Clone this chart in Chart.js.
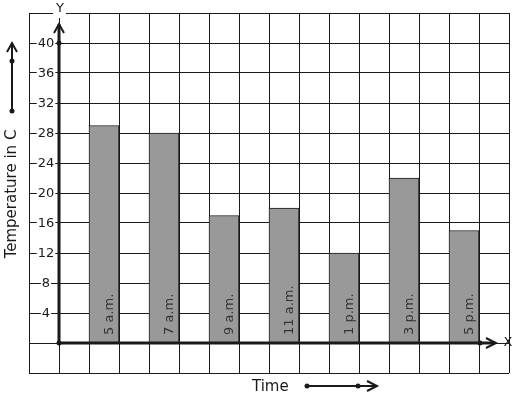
<!DOCTYPE html>
<html>
<head>
<meta charset="utf-8">
<script src="https://cdn.jsdelivr.net/npm/chart.js@4.4.1/dist/chart.umd.min.js"></script>
<style>
  html, body { margin: 0; padding: 0; background: #fff; }
  #wrap { width: 517px; height: 399px; }
</style>
</head>
<body>
<div id="wrap"><canvas id="chart" width="517" height="399"></canvas></div>
<script>
// data
const times = ['5 a.m.', '7 a.m.', '9 a.m.', '11 a.m.', '1 p.m.', '3 p.m.', '5 p.m.'];
const timePos = [1.5, 3.5, 5.5, 7.5, 9.5, 11.5, 13.5];
const temps = [29, 28, 17, 18, 12, 22, 15];
const yTicks = [4, 8, 12, 16, 20, 24, 28, 32, 36, 40];

const ink = '#1a1a1a';
const font = '"DejaVu Sans", sans-serif';

function dot(ctx, x, y) {
    ctx.beginPath();
    ctx.arc(x, y, 2.5, 0, Math.PI * 2);
    ctx.fill();
}

const axesPlugin = {
    id: 'axesPlugin',
    afterDraw(chart) {
        const ctx = chart.ctx;
        const xs = chart.scales.x;
        const ys = chart.scales.y;
        const x0 = xs.getPixelForValue(0);
        const y0 = ys.getPixelForValue(0);
        const top = chart.chartArea.top;
        ctx.save();
        ctx.fillStyle = ink;
        ctx.strokeStyle = ink;

        // tick labels on white, to the left of the y axis
        ctx.font = '13px ' + font;
        ctx.textAlign = 'center';
        ctx.textBaseline = 'middle';
        yTicks.forEach(v => {
            const py = ys.getPixelForValue(v);
            const w = ctx.measureText(String(v)).width;
            ctx.fillStyle = '#fff';
            ctx.fillRect(x0 - 13 - w / 2 - 1, py - 7, w + 2, 14);
            ctx.fillStyle = ink;
            ctx.fillText(String(v), x0 - 13, py + 1);
        });

        // main axes
        ctx.lineWidth = 3;
        ctx.beginPath();
        ctx.moveTo(x0, y0);
        ctx.lineTo(x0, top + 11);
        ctx.moveTo(x0, y0);
        ctx.lineTo(495, y0);
        ctx.stroke();
        ctx.lineWidth = 2;
        ctx.beginPath();
        ctx.moveTo(x0 - 5, top + 20); ctx.lineTo(x0, top + 11); ctx.lineTo(x0 + 5, top + 20);
        ctx.moveTo(486, y0 - 5); ctx.lineTo(496, y0); ctx.lineTo(486, y0 + 5);
        ctx.stroke();
        dot(ctx, x0, y0);
        dot(ctx, x0, ys.getPixelForValue(40));
        dot(ctx, 480, y0);

        // axis letters
        ctx.font = '13px ' + font;
        ctx.fillStyle = '#fff';
        ctx.fillRect(x0 - 6, top - 7, 13, 12);
        ctx.fillStyle = ink;
        ctx.fillText('Y', x0 + 1, top - 4);
        ctx.fillText('X', 508, y0);

        // labels inside bars
        ctx.font = '13px ' + font;
        ctx.fillStyle = '#333';
        ctx.textAlign = 'left';
        ctx.textBaseline = 'alphabetic';
        times.forEach((t, i) => {
            const px = xs.getPixelForValue(timePos[i]);
            ctx.save();
            ctx.translate(px + 9, y0 - 8);
            ctx.rotate(-Math.PI / 2);
            ctx.fillText(t, 0, 0);
            ctx.restore();
        });

        // axis titles with arrows
        ctx.fillStyle = ink;
        ctx.font = '15px ' + font;
        ctx.save();
        ctx.translate(16, 194);
        ctx.rotate(-Math.PI / 2);
        ctx.textAlign = 'center';
        ctx.fillText('Temperature in C', 0, 0);
        ctx.restore();
        ctx.textAlign = 'left';
        ctx.fillText('Time', 252, 391);

        ctx.lineWidth = 2;
        ctx.beginPath();
        ctx.moveTo(12, 111); ctx.lineTo(12, 43);
        ctx.moveTo(7, 52); ctx.lineTo(12, 43); ctx.lineTo(17, 52);
        ctx.moveTo(307, 386); ctx.lineTo(376, 386);
        ctx.moveTo(367, 381); ctx.lineTo(377, 386); ctx.lineTo(367, 391);
        ctx.stroke();
        dot(ctx, 12, 61);
        dot(ctx, 12, 111);
        dot(ctx, 307, 386);
        dot(ctx, 358, 386);
        ctx.restore();
    }
};

new Chart(document.getElementById('chart'), {
    type: 'bar',
    data: {
        datasets: [{
            data: timePos.map((x, i) => ({ x: x, y: temps[i] })),
            backgroundColor: '#999999',
            borderColor: ink,
            borderWidth: 1,
            categoryPercentage: 1,
            barPercentage: 1
        }]
    },
    options: {
        responsive: false,
        animation: false,
        layout: { padding: { left: 29, right: 8, top: 13, bottom: 26 } },
        plugins: { legend: { display: false }, tooltip: { enabled: false } },
        scales: {
            x: {
                type: 'linear', min: -1, max: 15, offset: false,
                ticks: { display: false, stepSize: 1 },
                grid: { color: ink, lineWidth: 1, drawTicks: false, offset: false },
                border: { display: false },
                afterFit: s => { s.height = 0; }
            },
            y: {
                min: -4, max: 44,
                ticks: { display: false, stepSize: 4 },
                grid: { color: ink, lineWidth: 1, drawTicks: false },
                border: { display: false },
                afterFit: s => { s.width = 0; }
            }
        }
    },
    plugins: [axesPlugin]
});
</script>
</body>
</html>
